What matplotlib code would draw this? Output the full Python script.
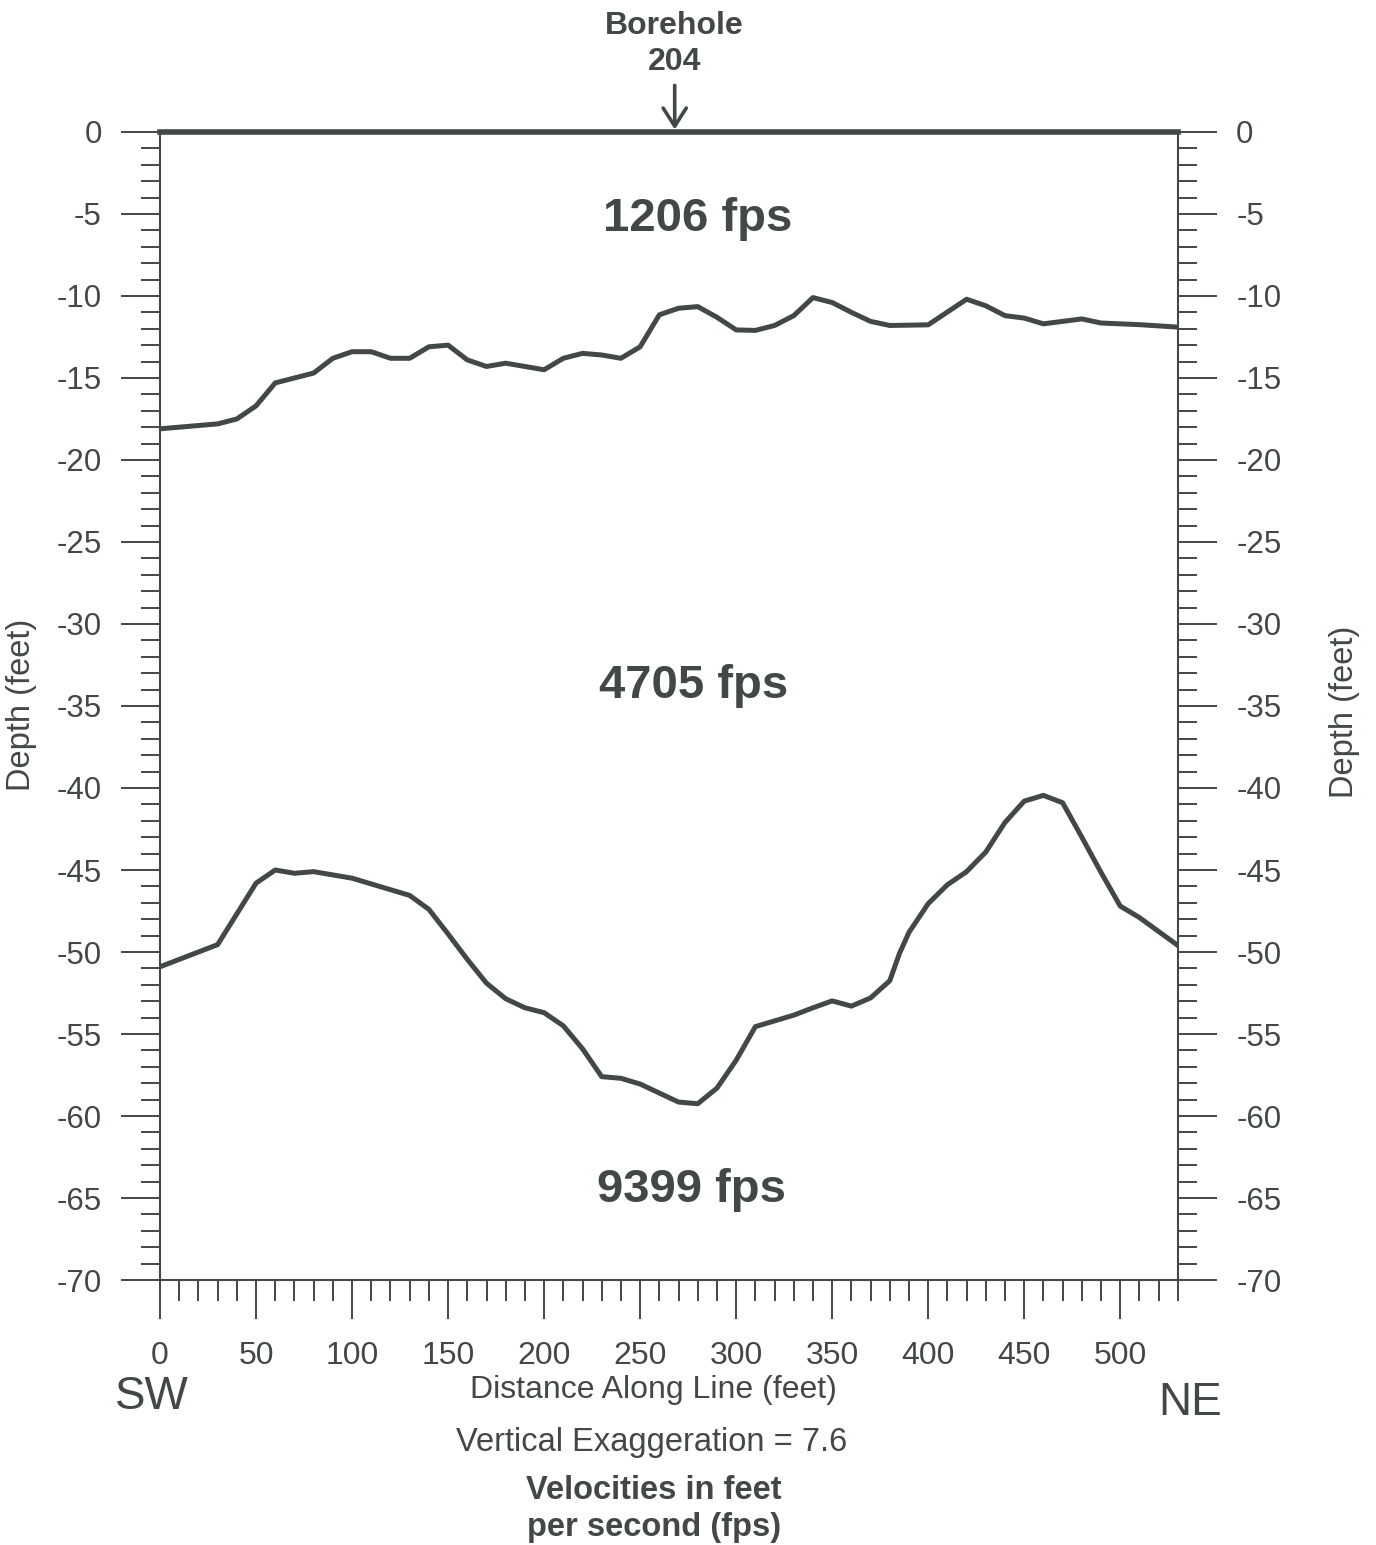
import numpy as np
import matplotlib.pyplot as plt
from matplotlib.ticker import MultipleLocator

plt.rcParams['font.family'] = ['Liberation Sans', 'DejaVu Sans']
plt.rcParams['axes.unicode_minus'] = False

INK = '#414846'

# refractor 1 (base of 1206 fps layer), depth in feet
dist_top = [0, 30, 40, 50, 60, 70, 80, 90, 100, 110, 120, 130, 140, 150, 160, 170,
            180, 190, 200, 210, 220, 230, 240, 250, 260, 270, 280, 290, 300, 310,
            320, 330, 340, 350, 360, 370, 380, 400, 420, 430, 440, 450, 460, 480,
            490, 510, 530]
depth_top = [-18.1, -17.8, -17.5, -16.7, -15.3, -15.0, -14.7, -13.8, -13.4, -13.4,
             -13.8, -13.8, -13.1, -13.0, -13.9, -14.3, -14.1, -14.3, -14.5, -13.8,
             -13.5, -13.6, -13.8, -13.1, -11.15, -10.75, -10.65, -11.3, -12.07,
             -12.1, -11.8, -11.2, -10.1, -10.4, -11.0, -11.55, -11.8, -11.76,
             -10.2, -10.6, -11.2, -11.35, -11.7, -11.4, -11.65, -11.75, -11.9]

# refractor 2 (top of 9399 fps layer)
dist_bot = [0, 30, 50, 60, 70, 80, 90, 100, 130, 140, 150, 160, 170, 180, 190, 200,
            210, 220, 230, 240, 250, 270, 280, 290, 300, 310, 330, 340, 350, 360,
            370, 380, 385, 390, 400, 410, 420, 430, 440, 450, 460, 470, 480, 490,
            500, 510, 530]
depth_bot = [-50.9, -49.55, -45.8, -45.0, -45.2, -45.1, -45.3, -45.5, -46.55, -47.4,
             -48.9, -50.45, -51.9, -52.85, -53.4, -53.7, -54.5, -55.9, -57.6, -57.7,
             -58.05, -59.15, -59.25, -58.3, -56.6, -54.55, -53.85, -53.4, -52.98,
             -53.3, -52.8, -51.75, -50.1, -48.8, -47.05, -45.9, -45.1, -43.9, -42.1,
             -40.8, -40.45, -40.9, -43.0, -45.15, -47.2, -47.9, -49.6]

layer_labels = ['1206 fps', '4705 fps', '9399 fps']
layer_pos = [(280, -5.3), (278, -33.8), (277, -64.5)]
borehole_x = 268

fig = plt.figure(figsize=(13.76, 15.45), dpi=100)
ax = fig.add_axes([0.1163, 0.1715, 0.7397, 0.7431])

ax.plot(dist_top, depth_top, color=INK, lw=3.6, solid_joinstyle='round')
ax.plot(dist_bot, depth_bot, color=INK, lw=3.6, solid_joinstyle='round')

for lab, (x, y) in zip(layer_labels, layer_pos):
    ax.text(x, y, lab, ha='center', va='center', fontsize=34,
            fontweight='bold', color=INK)

ax.set_xlim(0, 530)
ax.set_ylim(-70, 0)

ax.xaxis.set_major_locator(MultipleLocator(50))
ax.xaxis.set_minor_locator(MultipleLocator(10))
ax.yaxis.set_major_locator(MultipleLocator(5))
ax.yaxis.set_minor_locator(MultipleLocator(1))

for side in ['left', 'right', 'bottom']:
    ax.spines[side].set_linewidth(1.5)
    ax.spines[side].set_color(INK)
ax.spines['top'].set_linewidth(4)
ax.spines['top'].set_color(INK)

ax.tick_params(axis='both', which='both', direction='out', color=INK,
               labelcolor=INK, width=1.4)
ax.tick_params(axis='y', which='major', length=28, labelsize=22.5, pad=14,
               left=True, right=True, labelleft=True, labelright=True)
ax.tick_params(axis='y', which='minor', length=14, left=True, right=True)
ax.tick_params(axis='x', which='major', length=28, labelsize=23, pad=16,
               top=False, bottom=True)
ax.tick_params(axis='x', which='minor', length=15, top=False)

ax.annotate('Borehole\n204', xy=(borehole_x, 0.15), xytext=(borehole_x, 5.35),
            ha='center', va='center', fontsize=23, fontweight='bold',
            color=INK, annotation_clip=False, linespacing=1.25,
            arrowprops=dict(arrowstyle='->,head_length=0.5,head_width=0.32',
                            color=INK, lw=2.6, mutation_scale=26,
                            shrinkA=4, shrinkB=0))

fig.text(22 / 1376, 1 - 705 / 1545, 'Depth (feet)', rotation=90, ha='center',
         va='center', fontsize=23.5, color=INK)
fig.text(1345 / 1376, 1 - 712 / 1545, 'Depth (feet)', rotation=90, ha='center',
         va='center', fontsize=23.5, color=INK)
fig.text(653 / 1376, 1 - 1390 / 1545, 'Distance Along Line (feet)', ha='center',
         va='center', fontsize=23, color=INK)
fig.text(152 / 1376, 1 - 1397 / 1545, 'SW', ha='center', va='center',
         fontsize=33, color=INK)
fig.text(1190 / 1376, 1 - 1403 / 1545, 'NE', ha='center', va='center',
         fontsize=33, color=INK)
fig.text(652 / 1376, 1 - 1442 / 1545, 'Vertical Exaggeration = 7.6', ha='center',
         va='center', fontsize=23.5, color=INK)
fig.text(654 / 1376, 1 - 1509 / 1545, 'Velocities in feet\nper second (fps)',
         ha='center', va='center', fontsize=23.5, fontweight='bold', color=INK,
         linespacing=1.22)

fig.savefig('out.png', dpi=100, facecolor='white')
